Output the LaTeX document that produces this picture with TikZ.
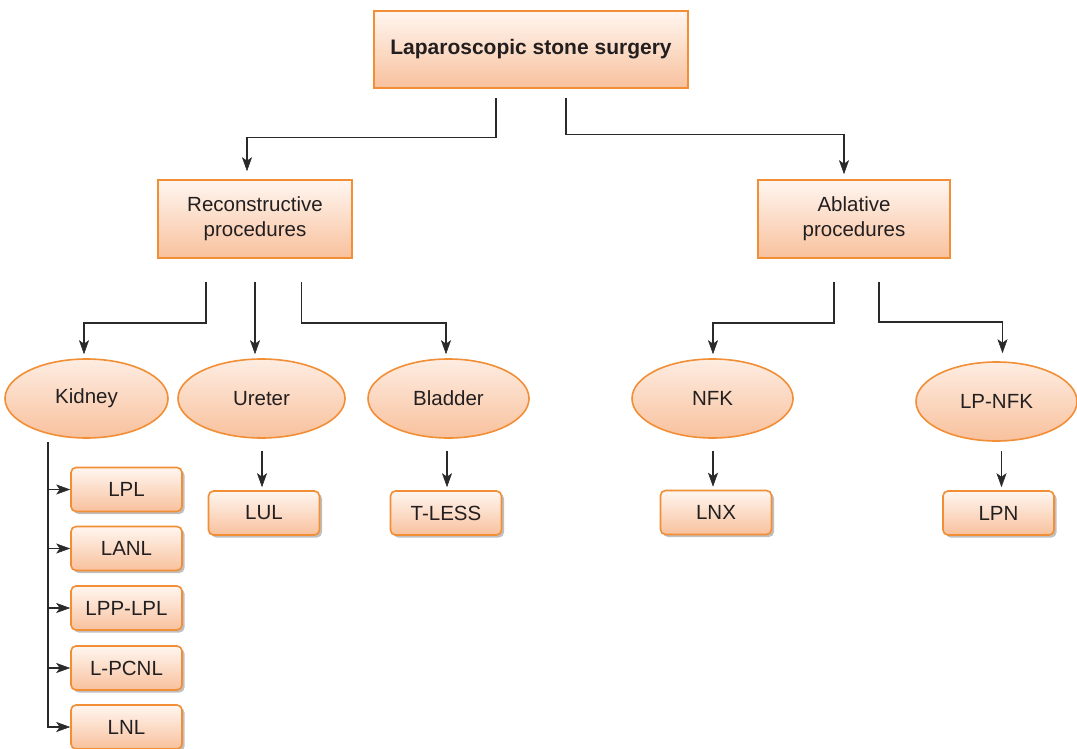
\documentclass[tikz,border=0pt]{standalone}
\usepackage{fontspec}
\setmainfont{Liberation Sans}
\usetikzlibrary{shapes.geometric,arrows.meta,shadows}

\definecolor{edge}{HTML}{F28E35}
\definecolor{fillTop}{HTML}{FFF6F0}
\definecolor{ovalTop}{HTML}{FEEDE2}
\definecolor{fillBot}{HTML}{F8C19D}
\definecolor{ink}{HTML}{231F20}
\definecolor{wire}{HTML}{2A2A2A}

\tikzset{
  base/.style={draw=edge, line width=1.6pt, top color=fillTop, bottom color=fillBot,
    text=ink, font=\fontsize{20.5}{25}\selectfont, align=center, inner sep=0pt},
  bigbox/.style={base, rectangle, minimum width=#1, minimum height=78pt},
  oval/.style={base, ellipse, top color=ovalTop, minimum width=#1, minimum height=79pt},
  leaf/.style={base, rectangle, rounded corners=5pt, minimum width=111pt, minimum height=44pt,
    drop shadow={shadow xshift=2.5pt, shadow yshift=-2.5pt, fill=black!45, opacity=.55}},
  conn/.style={draw=wire, line width=1.4pt,
    -{Stealth[length=14pt,width=10pt,inset=3.5pt,line width=0.5pt,color=wire,fill=wire]}},
}

\begin{document}
\begin{tikzpicture}[x=1pt,y=1pt]
\useasboundingbox (0,0) rectangle (1077,-749);

% root and the two procedure groups
\node[bigbox=314pt, minimum height=77pt, font=\bfseries\fontsize{21}{25}\selectfont] (top) at (531,-49.5) {Laparoscopic stone surgery};
\node[bigbox=194pt] (rec) at (255,-219) {Reconstructive\\procedures};
\node[bigbox=192pt] (abl) at (854,-219) {Ablative\\procedures};

% organs / approaches
\node[oval=163pt] (kid) at (86.5,-398.5) {Kidney};
\node[oval=167pt] (ure) at (261.5,-398.5) {Ureter};
\node[oval=161pt] (bla) at (448.5,-398.5) {Bladder};
\node[oval=161pt] (nfk) at (712.5,-398.5) {NFK};
\node[oval=161pt] (lpnfk) at (996.5,-401.5) {LP-NFK};

% techniques
\node[leaf] (lul) at (264,-513) {LUL};
\node[leaf] (tless) at (446,-513) {T-LESS};
\node[leaf] (lnx) at (716,-512.5) {LNX};
\node[leaf] (lpn) at (998.5,-513) {LPN};

\node[leaf] (lpl) at (126.5,-489.5) {LPL};
\node[leaf] (lanl) at (126.5,-548.5) {LANL};
\node[leaf] (lpp) at (126.5,-608) {LPP-LPL};
\node[leaf] (lpcnl) at (126.5,-668) {L-PCNL};
\node[leaf] (lnl) at (126.5,-727) {LNL};

% root to groups
\draw[conn] ([xshift=-35pt,yshift=-9pt]top.south) -- ++(0,-40) -| ([xshift=-8pt,yshift=8pt]rec.north);
\draw[conn] ([xshift=35pt,yshift=-9pt]top.south) -- ++(0,-37) -| ([xshift=-10pt,yshift=5pt]abl.north);

% reconstructive branches
\draw[conn] ([xshift=-49pt,yshift=-23pt]rec.south) -- ++(0,-41) -| ([xshift=-2.5pt,yshift=4pt]kid.north);
\draw[conn] ([yshift=-23pt]rec.south) -- ([xshift=-6.5pt,yshift=4pt]ure.north);
\draw[conn] ([xshift=46.5pt,yshift=-23pt]rec.south) -- ++(0,-41) -| ([xshift=-2.5pt,yshift=4pt]bla.north);

% ablative branches
\draw[conn] ([xshift=-20pt,yshift=-23pt]abl.south) -- ++(0,-41) -| ([xshift=0.5pt,yshift=4pt]nfk.north);
\draw[conn] ([xshift=25pt,yshift=-23pt]abl.south) -- ++(0,-40) -| ([xshift=6pt,yshift=8pt]lpnfk.north);

% single techniques
\draw[conn] ([xshift=0.5pt,yshift=-12pt]ure.south) -- ([xshift=0.5pt,yshift=3pt]ure.south |- lul.north);
\draw[conn] ([xshift=-1.5pt,yshift=-12pt]bla.south) -- ([xshift=-1.5pt,yshift=3pt]bla.south |- tless.north);
\draw[conn] ([xshift=0.5pt,yshift=-12pt]nfk.south) -- ([xshift=0.5pt,yshift=3pt]nfk.south |- lnx.north);
\draw[conn] ([xshift=5pt,yshift=-9pt]lpnfk.south) -- ([xshift=5pt,yshift=3pt]lpnfk.south |- lpn.north);

% kidney techniques along a common spine
\coordinate (spine) at ([xshift=-38.5pt,yshift=-3.5pt]kid.south);
\draw[conn] (spine) |- (lnl.west);
\foreach \n in {lpl,lanl,lpp,lpcnl}
  \draw[conn] (spine |- \n.west) -- (\n.west);
\end{tikzpicture}
\end{document}
